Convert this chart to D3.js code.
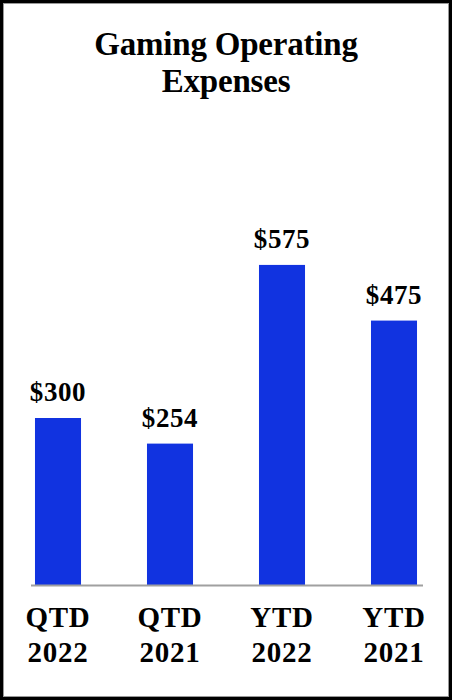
<!DOCTYPE html>
<html>
<head>
<meta charset="utf-8">
<script src="https://cdn.jsdelivr.net/npm/d3@7"></script>
<style>
  html, body { margin: 0; padding: 0; background: #fff; }
  svg { display: block; }
</style>
</head>
<body>
<svg id="chart" width="452" height="700"></svg>
<script>
const titleLines = ["Gaming Operating", "Expenses"];
const categories = ["QTD 2022", "QTD 2021", "YTD 2022", "YTD 2021"];
const values = [300, 254, 575, 475];
const valueLabels = ["$300", "$254", "$575", "$475"];

const W = 452, H = 700;
const svg = d3.select("#chart");
const font = "'Liberation Serif', 'Times New Roman', Times, serif";

// frame
svg.append("rect").attr("x", 1.5).attr("y", 1.5).attr("width", W - 3).attr("height", H - 3)
  .attr("fill", "#fff").attr("stroke", "#000").attr("stroke-width", 3);
svg.append("rect").attr("x", 3.5).attr("y", 3.5).attr("width", W - 7).attr("height", H - 7)
  .attr("fill", "none").attr("stroke", "#999").attr("stroke-width", 1);

// title
svg.append("text").attr("text-anchor", "middle").attr("font-family", font)
  .attr("font-weight", "bold").attr("font-size", 33).attr("fill", "#000")
  .attr("letter-spacing", -0.2)
  .selectAll("tspan").data(titleLines).join("tspan")
  .attr("x", W / 2).attr("y", (d, i) => 55 + i * 37).text(d => d);

const baseY = 585;
const x = d3.scaleBand().domain(categories).range([2, 450])
  .paddingInner(0.589).paddingOuter(0.2945);
const y = d3.scaleLinear().domain([0, 600]).range([baseY, baseY - 334]);

// bars
svg.append("g").selectAll("rect").data(values).join("rect")
  .attr("x", (d, i) => x(categories[i]))
  .attr("width", x.bandwidth())
  .attr("y", d => y(d))
  .attr("height", d => y(0) - y(d))
  .attr("fill", "#1133E0");

// baseline
svg.append("line").attr("x1", 31).attr("x2", 423).attr("y1", baseY + 0.5).attr("y2", baseY + 0.5)
  .attr("stroke", "#A0A0A0").attr("stroke-width", 2);

// value labels
svg.append("g").selectAll("text").data(values).join("text")
  .attr("x", (d, i) => x(categories[i]) + x.bandwidth() / 2)
  .attr("y", d => y(d) - 17)
  .attr("text-anchor", "middle").attr("font-family", font)
  .attr("font-weight", "bold").attr("font-size", 27).attr("letter-spacing", 0.6)
  .attr("fill", "#000")
  .text((d, i) => valueLabels[i]);

// category labels
const cat = svg.append("g").selectAll("text").data(categories).join("text")
  .attr("text-anchor", "middle").attr("font-family", font)
  .attr("font-weight", "bold").attr("font-size", 29).attr("letter-spacing", 0.8)
  .attr("fill", "#000");
cat.selectAll("tspan").data(d => d.split(" ").map(s => [d, s])).join("tspan")
  .attr("x", d => x(d[0]) + x.bandwidth() / 2)
  .attr("y", (d, i) => 627 + i * 35)
  .text(d => d[1]);
</script>
</body>
</html>
